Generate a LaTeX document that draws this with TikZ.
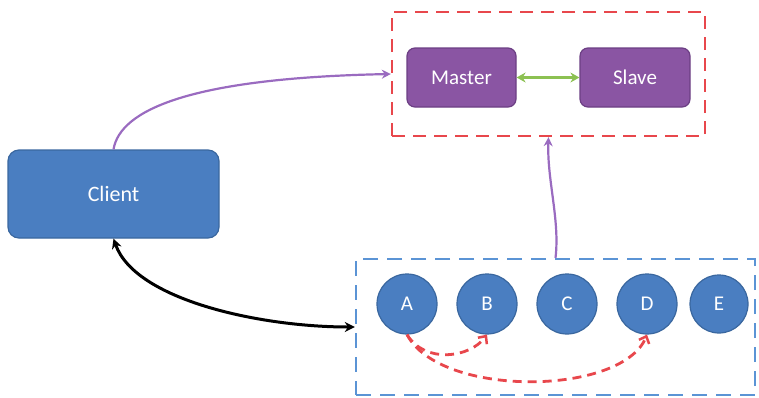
\documentclass[tikz,border=0pt]{standalone}
\usepackage{fontspec}
\setmainfont{Carlito}
\usetikzlibrary{arrows.meta}
\definecolor{nodeblue}{HTML}{4A7EC1}
\definecolor{nodeblueedge}{HTML}{3A679F}
\definecolor{nodepurple}{HTML}{8A55A3}
\definecolor{nodepurpleedge}{HTML}{6C3F84}
\definecolor{boxred}{HTML}{E8474C}
\definecolor{boxblue}{HTML}{5B94D5}
\definecolor{arrgreen}{HTML}{8CC152}
\definecolor{arrpurple}{HTML}{9A6BC0}
\tikzset{
  bluebox/.style={draw=nodeblueedge, line width=1.2pt, fill=nodeblue, rounded corners=11pt, text=white, font=\fontsize{22}{24}\selectfont},
  purplebox/.style={draw=nodepurpleedge, line width=1.2pt, fill=nodepurple, rounded corners=8pt, text=white, font=\fontsize{21}{24}\selectfont},
  peer/.style={circle, draw=nodeblueedge, line width=1.2pt, fill=nodeblue, text=white, minimum size=60pt, inner sep=0pt, font=\fontsize{21}{24}\selectfont},
  groupbox/.style={dashed, line width=2.4pt},
  hop/.style={boxred, line width=2.8pt, dash pattern=on 9pt off 6pt, -{Straight Barb[length=6pt,width=11pt,line width=2.5pt]}},
}
\begin{document}
\begin{tikzpicture}[x=1pt,y=-1pt]
\useasboundingbox (0,0) rectangle (759,397);
% groups
\node[groupbox, draw=boxred, dash pattern=on 13pt off 8pt, minimum width=313pt, minimum height=124pt, inner sep=0pt] (redbox) at (548.5,74) {};
\node[groupbox, draw=boxblue, dash pattern=on 15pt off 9pt, minimum width=399pt, minimum height=136pt, inner sep=0pt] (bluegrp) at (555.5,327) {};
% nodes
\node[bluebox, minimum width=211pt, minimum height=88pt] (client) at (113.5,194) {Client};
\node[purplebox, minimum width=109pt, minimum height=59pt] (master) at (461.5,77.5) {Master};
\node[purplebox, minimum width=110pt, minimum height=59pt] (slave) at (635,77.5) {Slave};
\node[peer] (A) at (407,304) {A};
\node[peer] (B) at (487,304) {B};
\node[peer] (C) at (567,304) {C};
\node[peer] (D) at (647,304) {D};
\node[peer, minimum size=58pt] (E) at (719,304) {E};
% connectors
\draw[arrgreen, line width=3pt, {Stealth[length=9pt,width=10pt]}-{Stealth[length=9pt,width=10pt]}] (master.east) -- (slave.west);
\draw[arrpurple, line width=2.2pt, -{Stealth[length=9pt,width=9pt]}] (client.north) .. controls (120,110) and (190,78) .. (redbox.west);
\draw[arrpurple, line width=2.2pt, -{Stealth[length=9pt,width=9pt]}] (bluegrp.north) .. controls (560,220) and (547,180) .. (redbox.south);
\draw[black, line width=3pt, {Stealth[length=10pt,width=10pt]}-{Stealth[length=10pt,width=10pt]}] (client.south) .. controls (135,300) and (260,327) .. (bluegrp.west);
\draw[hop] (A.south) .. controls (425,364) and (470,358) .. (B.south);
\draw[hop] (A.south) .. controls (440,398) and (622,396) .. (D.south);
\end{tikzpicture}
\end{document}
